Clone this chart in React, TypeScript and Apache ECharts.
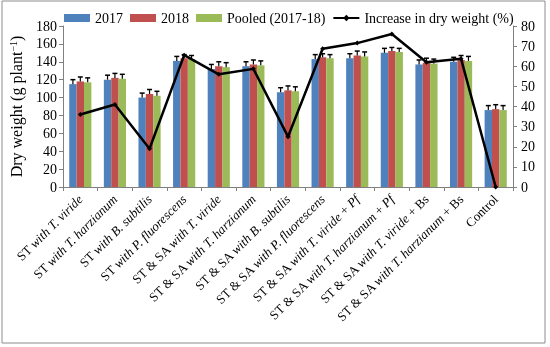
import React, { useEffect, useRef } from "react";
import * as echarts from "echarts";

const categories = [
  "ST with T. viride",
  "ST with T. harzianum",
  "ST with B. subtilis",
  "ST with P. fluorescens",
  "ST & SA with T. viride",
  "ST & SA with T. harzianum",
  "ST & SA with B. subtilis",
  "ST & SA with P. fluorescens",
  "ST & SA with T. viride + Pf",
  "ST & SA with T. harzianum + Pf",
  "ST & SA with T. viride + Bs",
  "ST & SA with T. harzianum + Bs",
  "Control",
];
const dw2017 = [115, 120, 100, 141, 132, 135, 106, 143, 144, 150, 137, 140, 86];
const dw2018 = [118, 122, 104, 144, 135, 137, 108, 145, 147, 152, 139, 142, 87];
const dwPooled = [117, 121, 102, 143, 134, 136, 107, 144, 146, 151, 138, 141, 86];
const err2017 = [5, 5, 5, 5, 5, 5, 5, 5, 5, 5, 5, 5, 5];
const err2018 = [5, 5, 5, 4, 5, 5, 5, 4, 5, 4, 5, 5, 5];
const errPooled = [5, 5, 5, 4, 5, 5, 5, 4, 5, 4, 5, 5, 5];
const increase = [36, 41, 19, 65.5, 56, 58.7, 25, 68.7, 71.5, 76, 62, 63.7, 0];
const leftTicks = { min: 0, max: 180, interval: 20 };
const rightTicks = { min: 0, max: 80, interval: 10 };

const FONT = "Liberation Serif";
const italicParts = ["with", "T. viride", "T. harzianum", "B. subtilis", "P. fluorescens", "Pf"];

function richLabel(s: string): string {
  const re = new RegExp("(" + italicParts.map((p) => p.replace(/\./g, "\\.")).join("|") + ")", "g");
  const parts = s.split(re).filter((p) => p.length > 0);
  return parts.map((p) => (italicParts.includes(p) ? `{i|${p}}` : `{n|${p}}`)).join("");
}

function errorSeries(name: string, values: number[], errs: number[], idx: number) {
  return {
    type: "custom",
    name: name + "_err",
    yAxisIndex: 0,
    z: 5,
    silent: true,
    data: values.map((v, i) => [i, v, errs[i]]),
    renderItem: (params: any, api: any) => {
      const x = api.value(0);
      const v = api.value(1);
      const e = api.value(2);
      const band = api.size([1, 0])[0];
      const bw = (band * 0.64) / 3;
      const p0 = api.coord([x, v]);
      const p1 = api.coord([x, v + e]);
      const cx = p0[0] + (idx - 1) * bw;
      const cap = 2.5;
      return {
        type: "group",
        children: [
          { type: "line", shape: { x1: cx, y1: p0[1], x2: cx, y2: p1[1] }, style: { stroke: "#000", lineWidth: 1.2 } },
          { type: "line", shape: { x1: cx - cap, y1: p1[1], x2: cx + cap, y2: p1[1] }, style: { stroke: "#000", lineWidth: 1.5 } },
        ],
      };
    },
  };
}

export default function App() {
  const ref = useRef<HTMLDivElement>(null);
  useEffect(() => {
    if (!ref.current) return;
    const chart = echarts.init(ref.current, null, { renderer: "svg" });
    chart.setOption({
      animation: false,
      textStyle: { fontFamily: FONT },
      graphic: [
        {
          type: "rect",
          shape: { x: 2, y: 1, width: 543, height: 342 },
          style: { fill: "none", stroke: "#8c8c8c", lineWidth: 1 },
          silent: true,
        },
      ],
      legend: {
        top: 6,
        left: 59,
        itemGap: 7,
        itemWidth: 26,
        itemHeight: 8,
        textStyle: { fontFamily: FONT, fontSize: 14, color: "#000" },
        data: [
          { name: "2017", icon: "rect" },
          { name: "2018", icon: "rect" },
          { name: "Pooled (2017-18)", icon: "rect" },
          { name: "Increase in dry weight (%)" },
        ],
      },
      grid: { left: 63, right: 37, top: 26, bottom: 160, containLabel: false },
      xAxis: {
        type: "category",
        data: categories,
        axisLine: { lineStyle: { color: "#808080" } },
        axisTick: { show: true, alignWithLabel: false, length: 4, lineStyle: { color: "#808080" } },
        axisLabel: {
          rotate: 45,
          interval: 0,
          margin: 10,
          color: "#000",
          formatter: (v: string) => richLabel(v),
          rich: {
            n: { fontFamily: FONT, fontSize: 13, color: "#000" },
            i: { fontFamily: FONT, fontSize: 13, fontStyle: "italic", color: "#000" },
          },
        },
      },
      yAxis: [
        {
          type: "value",
          ...leftTicks,
          name: "Dry weight (g plant{sup|−1})",
          nameLocation: "middle",
          nameGap: 39,
          nameRotate: 90,
          nameTextStyle: {
            fontFamily: FONT,
            fontSize: 16,
            color: "#000",
            rich: { sup: { fontFamily: FONT, fontSize: 10, verticalAlign: "top", color: "#000", padding: [0, 0, 6, 0] } },
          },
          axisLine: { show: true, lineStyle: { color: "#808080" } },
          axisTick: { show: true, length: 4, lineStyle: { color: "#808080" } },
          axisLabel: { fontFamily: FONT, fontSize: 14, color: "#000", margin: 6 },
          splitLine: { show: false },
        },
        {
          type: "value",
          ...rightTicks,
          position: "right",
          axisLine: { show: true, lineStyle: { color: "#808080" } },
          axisTick: { show: true, length: 4, lineStyle: { color: "#808080" } },
          axisLabel: { fontFamily: FONT, fontSize: 14, color: "#000", margin: 8 },
          splitLine: { show: false },
        },
      ],
      series: [
        { name: "2017", type: "bar", data: dw2017, barGap: "0%", barCategoryGap: "36%", itemStyle: { color: "#4F81BD" } },
        { name: "2018", type: "bar", data: dw2018, barGap: "0%", barCategoryGap: "36%", itemStyle: { color: "#C0504D" } },
        { name: "Pooled (2017-18)", type: "bar", data: dwPooled, barGap: "0%", barCategoryGap: "36%", itemStyle: { color: "#9BBB59" } },
        errorSeries("2017", dw2017, err2017, 0),
        errorSeries("2018", dw2018, err2018, 1),
        errorSeries("Pooled (2017-18)", dwPooled, errPooled, 2),
        {
          name: "Increase in dry weight (%)",
          type: "line",
          yAxisIndex: 1,
          data: increase,
          z: 10,
          symbol: "diamond",
          symbolSize: 5,
          showSymbol: true,
          lineStyle: { color: "#000", width: 2.5 },
          itemStyle: { color: "#000" },
        },
      ],
    });
    return () => chart.dispose();
  }, []);
  return <div ref={ref} style={{ position: "fixed", left: 0, top: 0, width: 550, height: 347 }} />;
}
